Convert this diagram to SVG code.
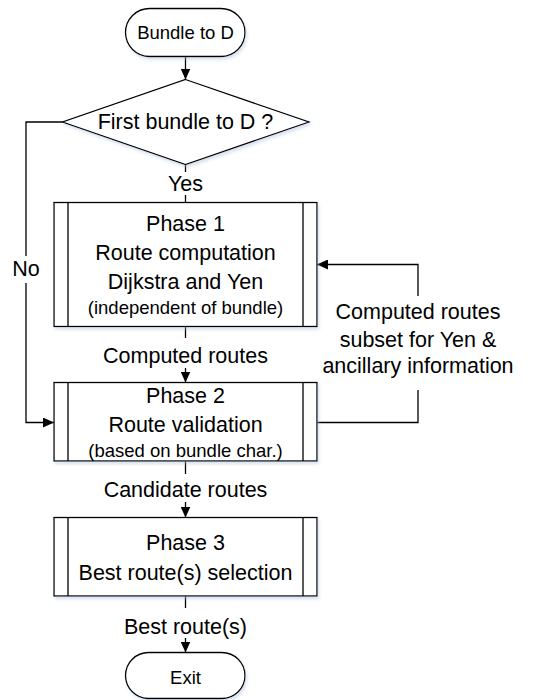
<svg xmlns="http://www.w3.org/2000/svg" width="535" height="700" viewBox="0 0 535 700">
<style>
.shape{fill:#fff;stroke:#000;stroke-width:1.3;filter:url(#sh)}
.inner{stroke:#000;stroke-width:1.3;fill:none}
.conn{fill:none;stroke:#000;stroke-width:1.3}
text{font-family:"Liberation Sans",Arial,sans-serif;font-size:21.5px;fill:#000;text-anchor:middle}
.sm{font-size:18.5px}
</style>
<defs>
<filter id="sh" x="-10%" y="-10%" width="130%" height="140%">
<feDropShadow dx="1.5" dy="2.5" stdDeviation="1.5" flood-color="#a9c0dc" flood-opacity="0.45"/>
</filter>
<marker id="ah" viewBox="0 0 11 10" refX="11" refY="5" markerWidth="11" markerHeight="10" markerUnits="userSpaceOnUse" orient="auto">
<path d="M0,0 L11,5 L0,10 z" fill="#000"/>
</marker>
</defs>
<g id="connectors">
<path class="conn" d="M185.5,56.5 V79.5" marker-end="url(#ah)"/>
<path class="conn" d="M185.5,164.5 V172"/>
<text x="185.5" y="190.5">Yes</text>
<path class="conn" d="M185.5,195 V202.5"/>
<path class="conn" d="M62.5,122 H26 V256"/>
<text x="26" y="276">No</text>
<path class="conn" d="M26,283 V422.5 H54" marker-end="url(#ah)"/>
<path class="conn" d="M185.5,326.5 V338"/>
<text x="185.5" y="362.5">Computed routes</text>
<path class="conn" d="M185.5,368 V382.5" marker-end="url(#ah)"/>
<path class="conn" d="M317,422.5 H418 V390"/>
<path class="conn" d="M418,296 V264.5 H317" marker-end="url(#ah)"/>
<text x="418" y="318.5">Computed routes</text>
<text x="418" y="347">subset for Yen &amp;</text>
<text x="418" y="373">ancillary information</text>
<path class="conn" d="M185.5,461 V474"/>
<text x="185.5" y="497">Candidate routes</text>
<path class="conn" d="M185.5,502 V517.5" marker-end="url(#ah)"/>
<path class="conn" d="M185.5,596 V608"/>
<text x="185.5" y="634">Best route(s)</text>
<path class="conn" d="M185.5,638 V652.5" marker-end="url(#ah)"/>
</g>
<g id="start">
<rect class="shape" x="125.5" y="8.5" width="119.5" height="48" rx="24" ry="24"/>
<text class="sm" x="185.5" y="39">Bundle to D</text>
</g>
<g id="decision">
<polygon class="shape" points="185.5,79.5 309,122 185.5,164.5 62.5,122"/>
<text x="185.5" y="129">First bundle to D ?</text>
</g>
<g id="phase1">
<rect class="shape" x="54" y="202.5" width="263" height="124"/>
<path class="inner" d="M68,202.5 V326.5 M303,202.5 V326.5"/>
<text x="185.5" y="230.5">Phase 1</text>
<text x="185.5" y="259.5">Route computation</text>
<text x="185.5" y="289">Dijkstra and Yen</text>
<text class="sm" x="185.5" y="314">(independent of bundle)</text>
</g>
<g id="phase2">
<rect class="shape" x="54" y="382.5" width="263" height="78.5"/>
<path class="inner" d="M68,382.5 V461 M303,382.5 V461"/>
<text x="185.5" y="403">Phase 2</text>
<text x="185.5" y="431.5">Route validation</text>
<text class="sm" x="185.5" y="457">(based on bundle char.)</text>
</g>
<g id="phase3">
<rect class="shape" x="54" y="517.5" width="263" height="78.5"/>
<path class="inner" d="M68,517.5 V596 M303,517.5 V596"/>
<text x="185.5" y="550">Phase 3</text>
<text x="185.5" y="579.5">Best route(s) selection</text>
</g>
<g id="exit">
<rect class="shape" x="125.5" y="652.5" width="119.5" height="46" rx="23" ry="23"/>
<text class="sm" x="185.5" y="684">Exit</text>
</g>
</svg>
